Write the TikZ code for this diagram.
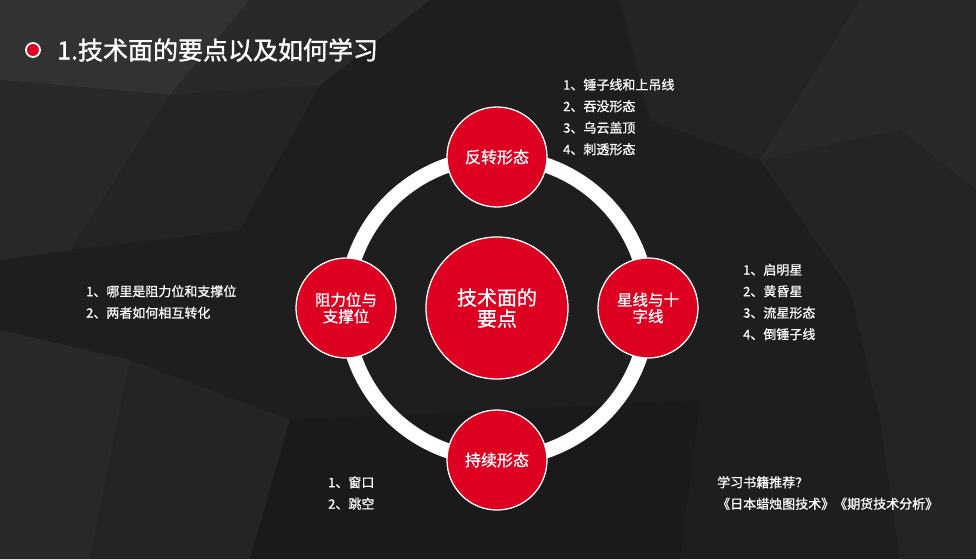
\documentclass[tikz,border=0pt]{standalone}
\usepackage{fontspec}
\setmainfont{Noto Sans CJK SC}[FakeBold=0.9]
\newfontfamily\titolofont{Noto Sans CJK SC}[FakeBold=1.4]
\usetikzlibrary{positioning}

\definecolor{rosso}{RGB}{222,0,32}
\definecolor{fondo}{RGB}{30,30,30}
\definecolor{facciaA}{RGB}{50,50,50}
\definecolor{facciaB}{RGB}{41,41,41}
\definecolor{facciaC}{RGB}{36,36,36}
\definecolor{facciaD}{RGB}{26,26,26}

\tikzset{
    cerchio/.style={circle, fill=rosso, draw=white, line width=1.3pt, text=white,
        align=center, inner sep=0pt},
    elenco/.style={anchor=west, text=white, align=left, inner sep=0pt,
        font=\fontsize{13}{21.5}\selectfont},
    anello/.style={draw=white, line width=15pt},
}

\begin{document}
\begin{tikzpicture}[x=1pt, y=-1pt]
    % Sfondo
    \fill[fondo] (0,0) rectangle (976,559);
    \useasboundingbox (0,0) rectangle (976,559);
    \fill[facciaA] (0,0) -- (250,0) -- (170,95) -- (0,80) -- cycle;
    \fill[facciaB] (250,0) -- (430,0) -- (320,85) -- (170,95) -- cycle;
    \fill[facciaB] (0,80) -- (170,95) -- (70,250) -- (0,260) -- cycle;
    \fill[facciaC] (170,95) -- (320,85) -- (240,230) -- (70,250) -- cycle;
    \fill[facciaC] (620,0) -- (860,0) -- (760,160) -- (650,120) -- cycle;
    \fill[facciaB] (860,0) -- (976,0) -- (976,190) -- (900,130) -- (760,160) -- cycle;
    \fill[facciaC] (760,160) -- (900,130) -- (976,190) -- (976,360) -- (850,290) -- cycle;
    \fill[facciaB] (0,330) -- (130,360) -- (90,559) -- (0,559) -- cycle;
    \fill[facciaC] (130,360) -- (290,420) -- (250,559) -- (90,559) -- cycle;
    \fill[facciaC] (850,290) -- (976,360) -- (976,559) -- (900,559) -- (880,420) -- cycle;
    \fill[facciaD] (290,420) -- (700,400) -- (680,559) -- (250,559) -- cycle;

    % Titolo
    \node[circle, fill=rosso, draw=white, line width=1.8pt, minimum size=14pt, inner sep=0pt]
        (punto) at (33,50) {};
    \node[anchor=west, text=white, inner sep=0pt, font=\titolofont\fontsize{25}{30}\selectfont]
        (titolo) at (57,50) {1.技术面的要点以及如何学习};

    % Anello e cerchi
    \coordinate (o) at (497,308);
    \draw[anello] (o) circle[radius=151pt];
    \node[cerchio, minimum size=142pt, font=\fontsize{20}{21}\selectfont]
        (centro) at (o) {技术面的\\要点};
    \node[cerchio, minimum size=100pt, font=\fontsize{16}{18}\selectfont]
        (inversione) at (497,157) {反转形态};
    \node[cerchio, minimum size=100pt, font=\fontsize{15.5}{16.5}\selectfont]
        (supporto) at (346,308) {阻力位与\\支撑位};
    \node[cerchio, minimum size=100pt, font=\fontsize{15.5}{16.5}\selectfont]
        (stelle) at (648,308) {星线与十\\字线};
    \node[cerchio, minimum size=100pt, font=\fontsize{16}{18}\selectfont]
        (continuazione) at (497,460) {持续形态};

    % Elenchi
    \node[elenco] (lista1) at (563,117) {1、锤子线和上吊线\\2、吞没形态\\3、乌云盖顶\\4、刺透形态};
    \node[elenco] (lista2) at (743,302) {1、启明星\\2、黄昏星\\3、流星形态\\4、倒锤子线};
    \node[elenco] (lista3) at (86,302) {1、哪里是阻力位和支撑位\\2、两者如何相互转化};
    \node[elenco] (lista4) at (328,493) {1、窗口\\2、跳空};
    \node[elenco] (libri) at (717,493) {学习书籍推荐？\\《日本蜡烛图技术》《期货技术分析》};
\end{tikzpicture}
\end{document}
